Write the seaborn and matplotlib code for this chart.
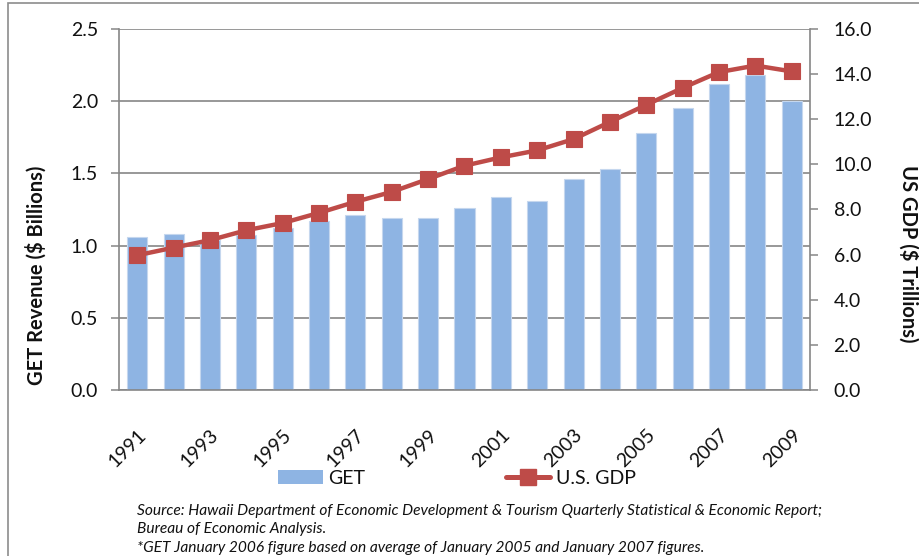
import numpy as np
import pandas as pd
import matplotlib
matplotlib.use("Agg")
import matplotlib.pyplot as plt
import matplotlib.transforms as mtransforms
import seaborn as sns
from matplotlib.patches import Patch, Rectangle
from matplotlib.lines import Line2D

# ---- data ----
years = [str(y) for y in range(1991, 2010)]
get_revenue = [1.06, 1.08, 1.04, 1.07, 1.12, 1.17, 1.21, 1.19, 1.19, 1.26,
               1.34, 1.31, 1.46, 1.53, 1.78, 1.955, 2.12, 2.18, 2.00]
us_gdp = [5.97, 6.31, 6.64, 7.08, 7.40, 7.85, 8.34, 8.78, 9.35, 9.94,
          10.31, 10.62, 11.12, 11.88, 12.64, 13.39, 14.09, 14.38, 14.12]
left_ticks = [0.0, 0.5, 1.0, 1.5, 2.0, 2.5]
right_ticks = [0, 2, 4, 6, 8, 10, 12, 14, 16]

BAR_BLUE = '#8EB4E3'
GDP_RED = '#BE4B48'
GRID_GRAY = '#868686'

sns.set_style('white')
plt.rcParams['font.family'] = ['Lato', 'DejaVu Sans']
plt.rcParams['text.color'] = '#111111'
plt.rcParams['xtick.color'] = '#111111'
plt.rcParams['ytick.color'] = '#111111'

df = pd.DataFrame({'year': years, 'get': get_revenue, 'gdp': us_gdp})

fig = plt.figure(figsize=(9.2, 5.56), dpi=100)
ax = fig.add_axes([119 / 920, 1 - 390 / 556, (810 - 119) / 920, (390 - 29) / 556])

sns.barplot(data=df, x='year', y='get', color=BAR_BLUE, width=0.55,
            edgecolor='#C5D7EE', linewidth=0.8, saturation=1, ax=ax)
ax.set_xlim(-0.5, len(years) - 0.5)
ax.set_ylim(0, 2.5)
ax.set_yticks(left_ticks)
ax.set_yticklabels([f'{v:.1f}' for v in left_ticks], fontsize=14)
ax.yaxis.grid(True, color=GRID_GRAY, lw=1.2)
ax.set_axisbelow(True)
ax.set_xlabel('')
ax.set_ylabel('')

# category boundary ticks, labels on every other year
ax.set_xticks(np.arange(-0.5, len(years), 1.0))
ax.set_xticklabels([])
ax.set_xticks(np.arange(0, len(years), 2), minor=True)
ax.set_xticklabels(years[::2], minor=True, rotation=45, ha='right',
                   rotation_mode='anchor', fontsize=14)
shift = mtransforms.ScaledTranslation(-6 / 100, 0, fig.dpi_scale_trans)
for lab in ax.get_xticklabels(minor=True):
    lab.set_transform(lab.get_transform() + shift)
ax.tick_params(axis='x', which='major', length=6, width=1.1, color=GRID_GRAY, direction='out')
ax.tick_params(axis='x', which='minor', length=0, pad=26)
ax.tick_params(axis='y', length=6, width=1.1, color=GRID_GRAY, direction='out', pad=9)
for side in ['top', 'right']:
    ax.spines[side].set_visible(False)
for side in ['left', 'bottom']:
    ax.spines[side].set_color(GRID_GRAY)
    ax.spines[side].set_linewidth(1.2)

ax2 = ax.twinx()
sns.lineplot(x=np.arange(len(years)), y=us_gdp, ax=ax2, color=GDP_RED, lw=3.2,
             marker='s', markersize=12, markeredgecolor=GDP_RED, markeredgewidth=0.8)
ax2.set_ylim(0, 16)
ax2.set_yticks(right_ticks)
ax2.set_yticklabels([f'{v:.1f}' for v in right_ticks], fontsize=14)
ax2.tick_params(axis='y', length=6, width=1.1, color=GRID_GRAY, direction='out', pad=11)
for side in ['top', 'left', 'bottom']:
    ax2.spines[side].set_visible(False)
ax2.spines['right'].set_color(GRID_GRAY)
ax2.spines['right'].set_linewidth(1.2)

fig.text(36 / 920, 1 - 275 / 556, 'GET Revenue ($ Billions)', rotation=90,
         ha='center', va='center', fontsize=14.5, fontweight='bold')
fig.text(909 / 920, 1 - 254 / 556, 'US GDP ($ Trillions)', rotation=270,
         ha='center', va='center', fontsize=14.5, fontweight='bold')

handles = [Patch(facecolor=BAR_BLUE, edgecolor='none', label='GET'),
           Line2D([], [], color=GDP_RED, lw=3.6, marker='s', markersize=11,
                  label='U.S. GDP')]
fig.legend(handles=handles, loc='center left', bbox_to_anchor=(278 / 920, 1 - 478 / 556),
           ncol=2, frameon=False, fontsize=14, handlelength=2.3, handleheight=0.75,
           handletextpad=0.3, columnspacing=7.2, borderpad=0, borderaxespad=0)

notes = ['Source: Hawaii Department of Economic Development & Tourism Quarterly Statistical & Economic Report;',
         'Bureau of Economic Analysis.',
         '*GET January 2006 figure based on average of January 2005 and January 2007 figures.']
for i, line in enumerate(notes):
    fig.text(137 / 920, 1 - (510.7 + 18.7 * i) / 556, line, fontsize=11.2,
             style='italic', ha='left', va='center')

# chart border (runs off the right and bottom edges)
fig.patches.append(Rectangle((8 / 920, -0.05), 1.2, 1 - 3 / 556 + 0.05,
                             transform=fig.transFigure, fill=False,
                             edgecolor='#8C8C8C', lw=1.2))

fig.savefig('out.png', dpi=100)
